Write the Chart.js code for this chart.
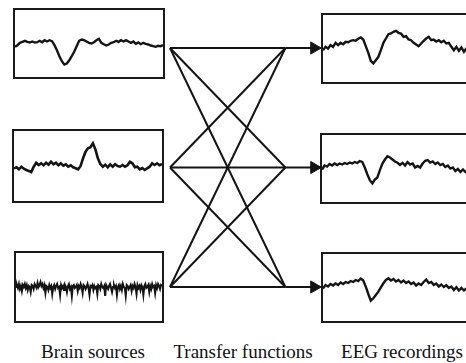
<!DOCTYPE html>
<html>
<head>
<meta charset="utf-8">
<script src="https://cdn.jsdelivr.net/npm/chart.js@4"></script>
<style>
  html, body { margin: 0; padding: 0; background: #fff; }
  body { width: 466px; height: 363px; position: relative; overflow: hidden; }
  .box { position: absolute; box-sizing: border-box; border: 2px solid #1a1a1a; background: #fff; }
  .box canvas { display: block; }
  #mix { position: absolute; left: 162px; top: 40px; }
  .label { position: absolute; top: 341px; font-family: "Liberation Serif", "Times New Roman", serif;
           font-size: 19px; line-height: 22px; color: #111; text-align: center; white-space: nowrap; }
</style>
</head>
<body>
<div class="box" style="left:13px;top:8px;width:152px;height:71px"><canvas id="src0"></canvas></div>
<div class="box" style="left:12px;top:129px;width:152px;height:74px"><canvas id="src1"></canvas></div>
<div class="box" style="left:14px;top:251px;width:150px;height:72px"><canvas id="src2"></canvas></div>
<div class="box" style="left:321px;top:13px;width:155px;height:71px"><canvas id="rec0"></canvas></div>
<div class="box" style="left:320px;top:133px;width:155px;height:71px"><canvas id="rec1"></canvas></div>
<div class="box" style="left:321px;top:252px;width:155px;height:71px"><canvas id="rec2"></canvas></div>
<canvas id="mix" width="166" height="255"></canvas>
<div class="label" id="cap0" style="left:23px;width:140px"></div>
<div class="label" id="cap1" style="left:163px;width:160px"></div>
<div class="label" id="cap2" style="left:327px;width:150px"></div>

<script>
// column captions
var captions = ['Brain sources', 'Transfer functions', 'EEG recordings'];

// brain source traces (offset from box middle, up is positive)
var source1 = [-3.3, -1.7, 0.7, 1.7, 2.7, 1.7, 1, 2, 1, 1.3, 2.7, 1.3, 3.3, 2, 3.3, 2.3, -1.7, -6.7, -12.7, -17.7,
  -21, -20, -16.7, -12.7, -8.3, -2.7, 2.7, 4, 3.3, 2, 0.7, 0, 1.3, 3.3, 4.7, 0.7, -0.7, -2, -1, 0.7,
  1.3, 2.7, 1.7, 3.3, 2, 3.3, 2, 0.7, 2, -0.3, 1, -0.7, 0.7, -0.3, -1, -2, -2.7, -3.3, -2.3, -2.7, -1.7];
var source2 = [-2.3, -1.3, -3.3, -0.7, -2.7, -4, -5, -6, -0.7, 3.3, 1, 2.7, 0.7, 3.3, 1.3, 4.3, 1.7, 3.3, 0.7, 2.7,
  0.3, 1.7, -0.7, 0.7, -1.3, -2.3, -3.3, 0, 7.7, 14.3, 17.7, 18.7, 22.7, 16.7, 7.7, 2, -0.7, 1.3, -1.3, 1.7,
  -0.7, 1.7, 0, -0.7, 1, -0.7, 0.7, 4.3, 2.7, -1.3, -0.7, -3.3, -2, -4, -2.3, -0.7, 2.7, 1, 2.7, 0.7, 2];
var source3 = [0, 2, -1, 3, -2, 1, -4, 2, 0, 3, -1, 2, -3, 1, 0, -5, 2, 1, -2, 3,
  1, -1, 4, 0, 2, 5, 1, 3, -1, 2, -6, 1, 0, -3, 2, -1, 1, -7, 0, 2,
  -2, 1, 3, -1, 0, -8, 2, -1, 1, -3, 2, 0, -5, 1, 3, -2, 0, -9, 1, 2,
  -1, 0, 2, -4, 1, -1, 3, 0, -6, 2, 1, -2, 0, 3, -1, -8, 1, 0, 2, -3,
  1, -1, 0, -7, 2, 1, -2, 3, 0, -1, 1, -9, 2, 0, -2, 1, 3, -1, -5, 0,
  2, -1, 1, -8, 0, 2, -2, 1, -3, 3, 0, -1, -9, 2, 1, -2, 0, 2, -4, 1,
  -1, 3, 0, -7, 2, -1, 1, -3, 2, 0, -8, 1, 3, -1, 0, 2, -5, 1, -2, 3,
  0, 1, -6, 2, -1, 3, 1, -2, 2, 1];

// EEG recording traces
var record1 = [-1.7, 1.7, 0, 3.3, 1.7, 5.7, 3.3, 5.7, 4.3, 6.7, 6.3, 7.7, 8.3, 7.7, 9.7, 11, 9, 2.3, -4.3, -12.3,
  -15, -11.7, -8.3, -1.7, 5.7, 10, 14.3, 15, 16.7, 17.7, 15.7, 15, 11.7, 12.3, 9, 8.3, 5.7, 4, 2.3, 5,
  7.7, 10, 11.7, 8.3, 9, 7, 8.3, 6.3, 7.7, 5, 5.7, 1.7, -1.7, 1.7, -2.3, 1, -3.3, 0, -1.7, -0.3, -1.7];
var record2 = [-1, 3, 2, 4.5, 3, 5, 3.5, 5, 4, 5.5, 4.5, 6, 5, 6.5, 5.5, 7.5, 6.5, 1, -5.7, -11.7,
  -15, -11, -9, -1.7, 5, 9, 12.3, 11, 9, 7, 5.7, 3.5, 5.7, 3, 6.5, 4, 5, 1, 2.5, 1,
  5, 7.7, 8.5, 6, 7, 4.5, 6, 3.5, 4.5, 1.5, 3, 0, 1, -2.5, -0.5, -3.5, -1, -3.5, -1.7, -3, -1.7];
var record3 = [-1, 2.5, 1, 3.5, 2, 4, 2.5, 5, 3.5, 5.5, 4.5, 6.5, 5.5, 7.5, 6.5, 9, 7, 0.8, -6.5, -13.2,
  -10.8, -7.5, -4.2, 0.2, 4.2, 7.5, 9.2, 7, 8.5, 6, 7.5, 5, 7, 4.5, 6, 3.5, 5, 2, 4, 2.5,
  5.5, 8, 4.5, 5.5, 2.5, 4, 1, 3, 0.5, 2.3, -0.5, 1, -2.5, 0.3, -3, -0.5, -3, -1, -2.8, -1.2, -2.2];

// mixing: every source feeds every recording
var sourceRows = [0, 1, 2];
var recordRows = [0, 1, 2];

var ink = '#141414';

captions.forEach(function (c, i) { document.getElementById('cap' + i).textContent = c; });

function drawTrace(id, values, lineWidth) {
  var canvas = document.getElementById(id);
  var box = canvas.parentNode;
  var w = box.clientWidth, h = box.clientHeight;
  canvas.width = w;
  canvas.height = h;
  new Chart(canvas.getContext('2d'), {
    type: 'line',
    data: {
      labels: values.map(function (v, i) { return i; }),
      datasets: [{
        data: values,
        borderColor: ink,
        borderWidth: lineWidth,
        pointRadius: 0,
        tension: 0,
        fill: false
      }]
    },
    options: {
      responsive: false,
      animation: false,
      layout: { padding: 0 },
      plugins: { legend: { display: false }, tooltip: { enabled: false } },
      scales: {
        x: { type: 'linear', display: false, min: 0, max: values.length - 1 },
        y: { display: false, min: -h / 2, max: h / 2 }
      }
    }
  });
}

drawTrace('src0', source1, 2.4);
drawTrace('src1', source2, 2.6);
drawTrace('src2', source3, 2);
drawTrace('rec0', record1, 2.4);
drawTrace('rec1', record2, 2.4);
drawTrace('rec2', record3, 2.4);

// transfer function lines
var mixSets = [];
sourceRows.forEach(function (i) {
  recordRows.forEach(function (j) {
    mixSets.push({
      data: [{ x: 0, y: i }, { x: 1, y: j }],
      borderColor: ink,
      borderWidth: 2,
      pointRadius: 0,
      clip: false
    });
  });
});
recordRows.forEach(function (j) {
  mixSets.push({
    data: [{ x: 1, y: j }, { x: 1.25, y: j }],
    borderColor: ink,
    borderWidth: 2,
    pointRadius: [0, 7],
    pointStyle: 'triangle',
    rotation: 90,
    pointBackgroundColor: ink,
    pointBorderColor: ink,
    pointBorderWidth: 1,
    clip: false
  });
});

new Chart(document.getElementById('mix').getContext('2d'), {
  type: 'scatter',
  data: { datasets: mixSets },
  options: {
    responsive: false,
    animation: false,
    showLine: true,
    layout: { padding: { left: 5, right: 8, top: 7, bottom: 7 } },
    plugins: { legend: { display: false }, tooltip: { enabled: false } },
    scales: {
      x: { type: 'linear', display: false, min: 0, max: 1.3 },
      y: { type: 'linear', display: false, min: 0, max: 2, reverse: true }
    }
  }
});
</script>
</body>
</html>
